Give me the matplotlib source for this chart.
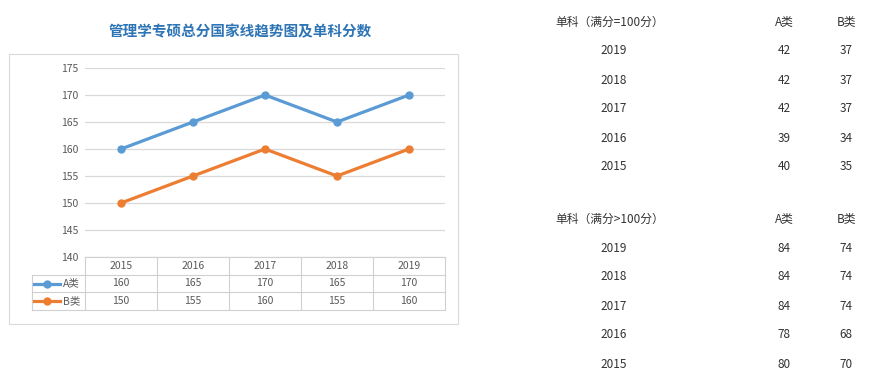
import matplotlib
matplotlib.use("Agg")
import matplotlib.pyplot as plt
from matplotlib.patches import Rectangle

plt.rcParams['font.family'] = ['Noto Sans CJK SC', 'DejaVu Sans']

title = "管理学专硕总分国家线趋势图及单科分数"
years = ["2015", "2016", "2017", "2018", "2019"]
series_names = ["A类", "B类"]
a_total = [160, 165, 170, 165, 170]
b_total = [150, 155, 160, 155, 160]
y_ticks = [140, 145, 150, 155, 160, 165, 170, 175]

t1_header = "单科（满分=100分）"
t2_header = "单科（满分>100分）"
t_years = ["2019", "2018", "2017", "2016", "2015"]
t1_a = [42, 42, 42, 39, 40]
t1_b = [37, 37, 37, 34, 35]
t2_a = [84, 84, 84, 78, 80]
t2_b = [74, 74, 74, 68, 70]

W, H = 869, 380
fig = plt.figure(figsize=(W / 100, H / 100), dpi=100)
fig.patch.set_facecolor("white")

def px(x0, y0, x1, y1):
    return [x0 / W, 1 - y1 / H, (x1 - x0) / W, (y1 - y0) / H]

blue = "#5b9bd5"
orange = "#ed7d31"
grid_c = "#d9d9d9"
tick_c = "#595959"
fs = 7.5

# overlay axes in pixel coords
ov = fig.add_axes([0, 0, 1, 1])
ov.set_xlim(0, W)
ov.set_ylim(H, 0)
ov.axis("off")
ov.add_patch(Rectangle((9, 54), 449, 270, fill=False, edgecolor=grid_c, lw=0.8))
ov.text(240, 31, title, ha="center", va="center", color="#2e75b6",
        fontsize=10.5, fontweight="bold")

# main line chart
ax = fig.add_axes(px(85, 68, 445, 257))
xs = list(range(len(years)))
ax.plot(xs, a_total, color=blue, lw=2.3, marker="o", ms=5, zorder=3)
ax.plot(xs, b_total, color=orange, lw=2.3, marker="o", ms=5, zorder=3)
ax.set_xlim(-0.5, len(years) - 0.5)
ax.set_ylim(140, 175)
ax.set_yticks(y_ticks)
ax.set_xticks([])
ax.tick_params(axis="y", length=0, labelsize=fs, labelcolor=tick_c, pad=5)
for s in ax.spines.values():
    s.set_visible(False)
ax.grid(axis="y", color=grid_c, lw=0.9)
ax.set_axisbelow(True)

# data table below axis
tax = fig.add_axes(px(85, 257, 445, 310))
tax.set_xlim(-0.5, len(years) - 0.5)
tax.set_ylim(3, 0)
tax.axis("off")
lc = "#d0d0d0"
left = -0.5 - 53 / 72
n = len(years)
tax.plot([-0.5, n - 0.5], [0, 0], color=lc, lw=0.8, clip_on=False)
for r in (1, 2, 3):
    tax.plot([left, n - 0.5], [r, r], color=lc, lw=0.8, clip_on=False)
for c in range(n + 1):
    tax.plot([c - 0.5, c - 0.5], [0, 3], color=lc, lw=0.8, clip_on=False)
tax.plot([left, left], [1, 3], color=lc, lw=0.8, clip_on=False)
for i, yv in enumerate(years):
    tax.text(i, 0.5, yv, ha="center", va="center", fontsize=fs, color=tick_c)
    tax.text(i, 1.5, str(a_total[i]), ha="center", va="center", fontsize=fs, color=tick_c)
    tax.text(i, 2.5, str(b_total[i]), ha="center", va="center", fontsize=fs, color=tick_c)
for r, (name, col) in enumerate(zip(series_names, [blue, orange])):
    yy = 1.5 + r
    x0 = left + 2 / 72
    x1 = left + 28 / 72
    tax.plot([x0, x1], [yy, yy], color=col, lw=2.3, clip_on=False)
    tax.plot([(x0 + x1) / 2], [yy], color=col, marker="o", ms=5, clip_on=False)
    tax.text(left + 31 / 72, yy, name, ha="left", va="center", fontsize=fs, color=tick_c)

# right-side tables
tc = "#333333"
def draw_table(y0, header, a_vals, b_vals):
    ov.text(555, y0, header, ha="left", va="center", fontsize=8.5, color=tc)
    ov.text(784, y0, series_names[0], ha="center", va="center", fontsize=8.5, color=tc)
    ov.text(846, y0, series_names[1], ha="center", va="center", fontsize=8.5, color=tc)
    for i, (yr, a, b) in enumerate(zip(t_years, a_vals, b_vals)):
        yy = y0 + 29 * (i + 1)
        ov.text(614, yy, yr, ha="center", va="center", fontsize=8.5, color=tc)
        ov.text(784, yy, str(a), ha="center", va="center", fontsize=8.5, color=tc)
        ov.text(846, yy, str(b), ha="center", va="center", fontsize=8.5, color=tc)

draw_table(22, t1_header, t1_a, t1_b)
draw_table(219, t2_header, t2_a, t2_b)

fig.savefig("out.png", dpi=100, facecolor="white")
